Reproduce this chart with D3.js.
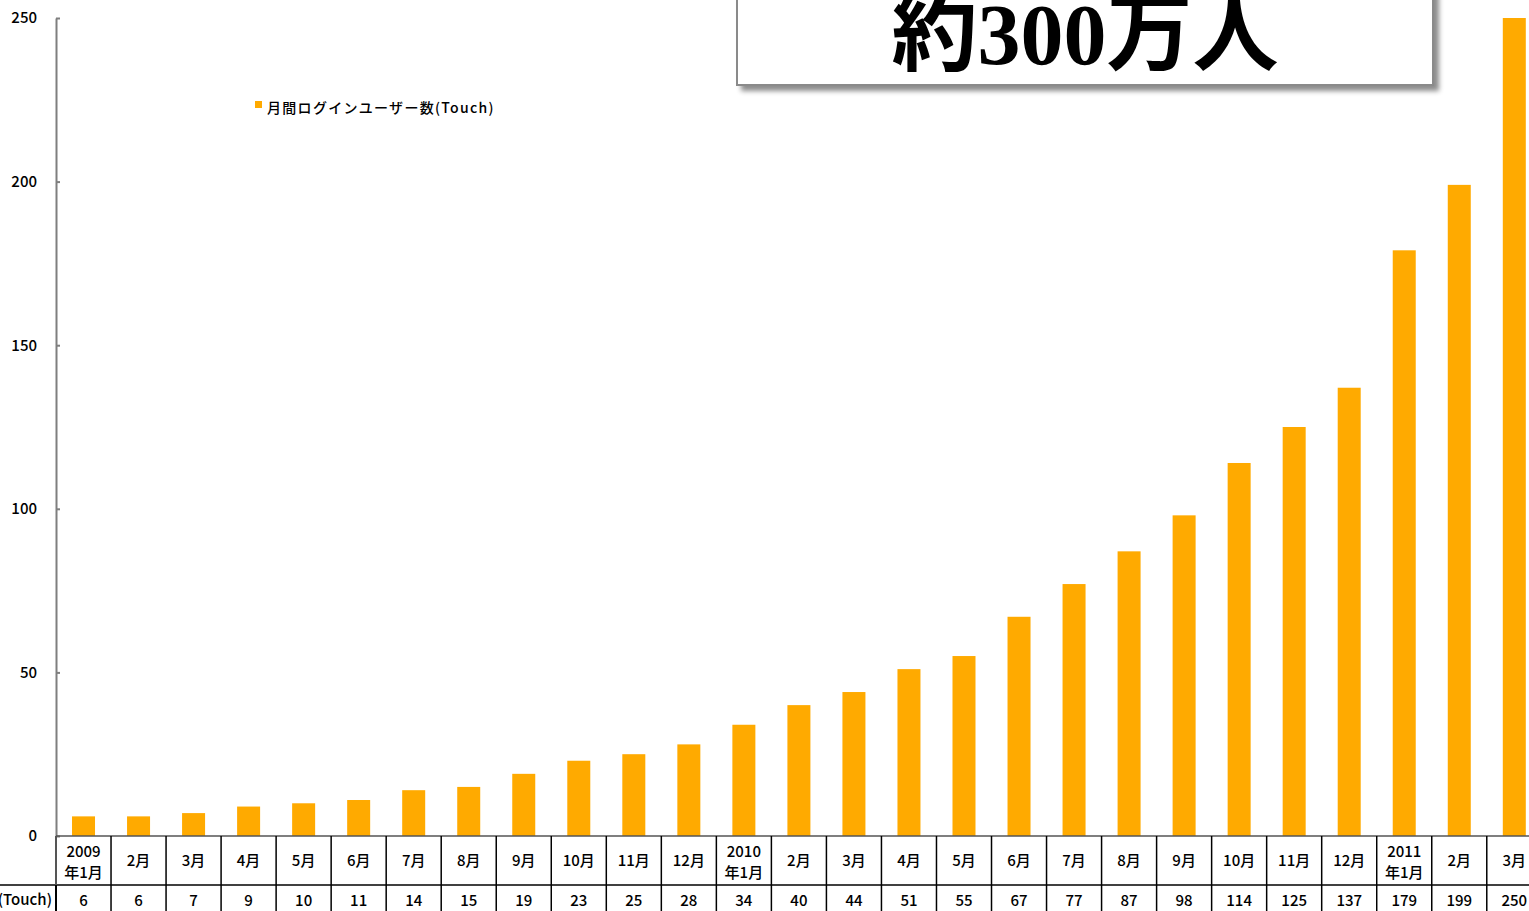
<!DOCTYPE html>
<html>
<head>
<meta charset="utf-8">
<script src="https://cdn.jsdelivr.net/npm/d3@7/dist/d3.min.js"></script>
<style>
  html, body { margin: 0; padding: 0; background: #fff; overflow: hidden; }
  svg { display: block; }
  .tick text { font-family: "Noto Sans CJK JP", "Noto Sans", sans-serif; }
</style>
</head>
<body>
<svg id="chart" width="1529" height="911"></svg>
<script>
// Monthly login users (Touch), in units of 10,000
const months = [
  "2009|年1月", "2月", "3月", "4月", "5月", "6月", "7月", "8月", "9月", "10月", "11月", "12月",
  "2010|年1月", "2月", "3月", "4月", "5月", "6月", "7月", "8月", "9月", "10月", "11月", "12月",
  "2011|年1月", "2月", "3月"
];
const users = [6, 6, 7, 9, 10, 11, 14, 15, 19, 23, 25, 28,
               34, 40, 44, 51, 55, 67, 77, 87, 98, 114, 125, 137,
               179, 199, 250];
const yTicks = [0, 50, 100, 150, 200, 250];
const seriesName = "月間ログインユーザー数(Touch)";
const headline = "約300万人";

const svg = d3.select("#chart");
const font = '"Noto Sans CJK JP", "Noto Sans", sans-serif';
const barColor = "#FFAA00";

const plotLeft = 56, plotTop = 18, plotBottom = 836;
const step = 55.03;
const x = d3.scaleBand()
  .domain(d3.range(months.length))
  .range([plotLeft, plotLeft + step * months.length])
  .paddingInner(0).paddingOuter(0);
const y = d3.scaleLinear().domain([0, 250]).range([plotBottom, plotTop]);

const barW = 23;

// Bars
svg.append("g").selectAll("rect")
  .data(users)
  .join("rect")
  .attr("x", (d, i) => x(i) + x.bandwidth() / 2 - barW / 2)
  .attr("y", d => y(d))
  .attr("width", barW)
  .attr("height", d => y(0) - y(d))
  .attr("fill", barColor);

// Y axis: labels on the left, short ticks pointing inward
const yAxis = d3.axisLeft(y)
  .tickValues(yTicks)
  .tickSizeInner(-4)
  .tickSizeOuter(0)
  .tickPadding(19);
const gy = svg.append("g")
  .attr("transform", `translate(${plotLeft},0)`)
  .call(yAxis);
gy.select(".domain").attr("stroke", "#7f7f7f").attr("stroke-width", 2);
gy.selectAll(".tick line").attr("stroke", "#7f7f7f").attr("stroke-width", 2);
gy.selectAll(".tick text")
  .attr("fill", "#000")
  .style("font-size", "15px")
  .style("font-weight", 500)
  .style("font-family", font);

// Data table under the axis
const rowSplit = 885;
const tableBottom = 911;
const tbl = svg.append("g");

// category axis line
tbl.append("line")
  .attr("x1", plotLeft).attr("x2", 1529)
  .attr("y1", plotBottom).attr("y2", plotBottom)
  .attr("stroke", "#555").attr("stroke-width", 1.5);
// row divider
tbl.append("line")
  .attr("x1", 0).attr("x2", 1529)
  .attr("y1", rowSplit).attr("y2", rowSplit)
  .attr("stroke", "#000").attr("stroke-width", 1.5);
// left border of table below the axis
tbl.append("line")
  .attr("x1", plotLeft).attr("x2", plotLeft)
  .attr("y1", plotBottom).attr("y2", rowSplit)
  .attr("stroke", "#555").attr("stroke-width", 2);
tbl.append("line")
  .attr("x1", plotLeft).attr("x2", plotLeft)
  .attr("y1", rowSplit).attr("y2", tableBottom)
  .attr("stroke", "#000").attr("stroke-width", 2);
// column separators
tbl.append("g").selectAll("line")
  .data(d3.range(1, months.length + 1))
  .join("line")
  .attr("x1", i => x(0) + i * x.step())
  .attr("x2", i => x(0) + i * x.step())
  .attr("y1", plotBottom).attr("y2", tableBottom)
  .attr("stroke", "#000").attr("stroke-width", 1.5);

// category labels
const catG = tbl.append("g")
  .attr("font-family", font).attr("font-size", 15).attr("font-weight", 500)
  .attr("fill", "#000")
  .attr("text-anchor", "middle");
months.forEach((m, i) => {
  const cx = x(i) + x.bandwidth() / 2;
  const parts = m.split("|");
  if (parts.length === 1) {
    catG.append("text").attr("x", cx).attr("y", 866).text(parts[0]);
  } else {
    catG.append("text").attr("x", cx).attr("y", 857).text(parts[0]);
    catG.append("text").attr("x", cx).attr("y", 878).text(parts[1]);
  }
});

// value row
const valG = tbl.append("g")
  .attr("font-family", font).attr("font-size", 15).attr("font-weight", 500)
  .attr("fill", "#000")
  .attr("text-anchor", "middle");
valG.selectAll("text")
  .data(users)
  .join("text")
  .attr("x", (d, i) => x(i) + x.bandwidth() / 2)
  .attr("y", 906)
  .text(d => d);
valG.append("text")
  .attr("x", 52).attr("y", 905)
  .attr("text-anchor", "end")
  .text(seriesName);

// Legend
const lg = svg.append("g").attr("transform", "translate(255,101)");
lg.append("rect").attr("width", 7).attr("height", 7).attr("fill", barColor);
lg.append("text")
  .attr("x", 12).attr("y", 12)
  .attr("font-family", font).attr("font-size", 14).attr("font-weight", 500)
  .attr("letter-spacing", 1.3)
  .attr("fill", "#000")
  .text(seriesName);

// Headline callout box with drop shadow
const defs = svg.append("defs");
const f = defs.append("filter").attr("id", "shadow")
  .attr("x", "-5%").attr("y", "-20%").attr("width", "115%").attr("height", "150%");
f.append("feDropShadow")
  .attr("dx", 5).attr("dy", 5).attr("stdDeviation", 2.5)
  .attr("flood-color", "#000").attr("flood-opacity", 0.45);

const box = svg.append("g");
box.append("rect")
  .attr("x", 737).attr("y", -30)
  .attr("width", 696).attr("height", 115)
  .attr("fill", "#fff")
  .attr("stroke", "#8a8a8a").attr("stroke-width", 2)
  .attr("filter", "url(#shadow)");
box.append("text")
  .attr("x", 1085).attr("y", 64)
  .attr("text-anchor", "middle")
  .attr("font-family", '"Liberation Serif", "DejaVu Serif", "Noto Sans CJK JP", serif')
  .attr("font-weight", "bold")
  .attr("font-size", 86)
  .attr("fill", "#000")
  .text(headline);
</script>
</body>
</html>
